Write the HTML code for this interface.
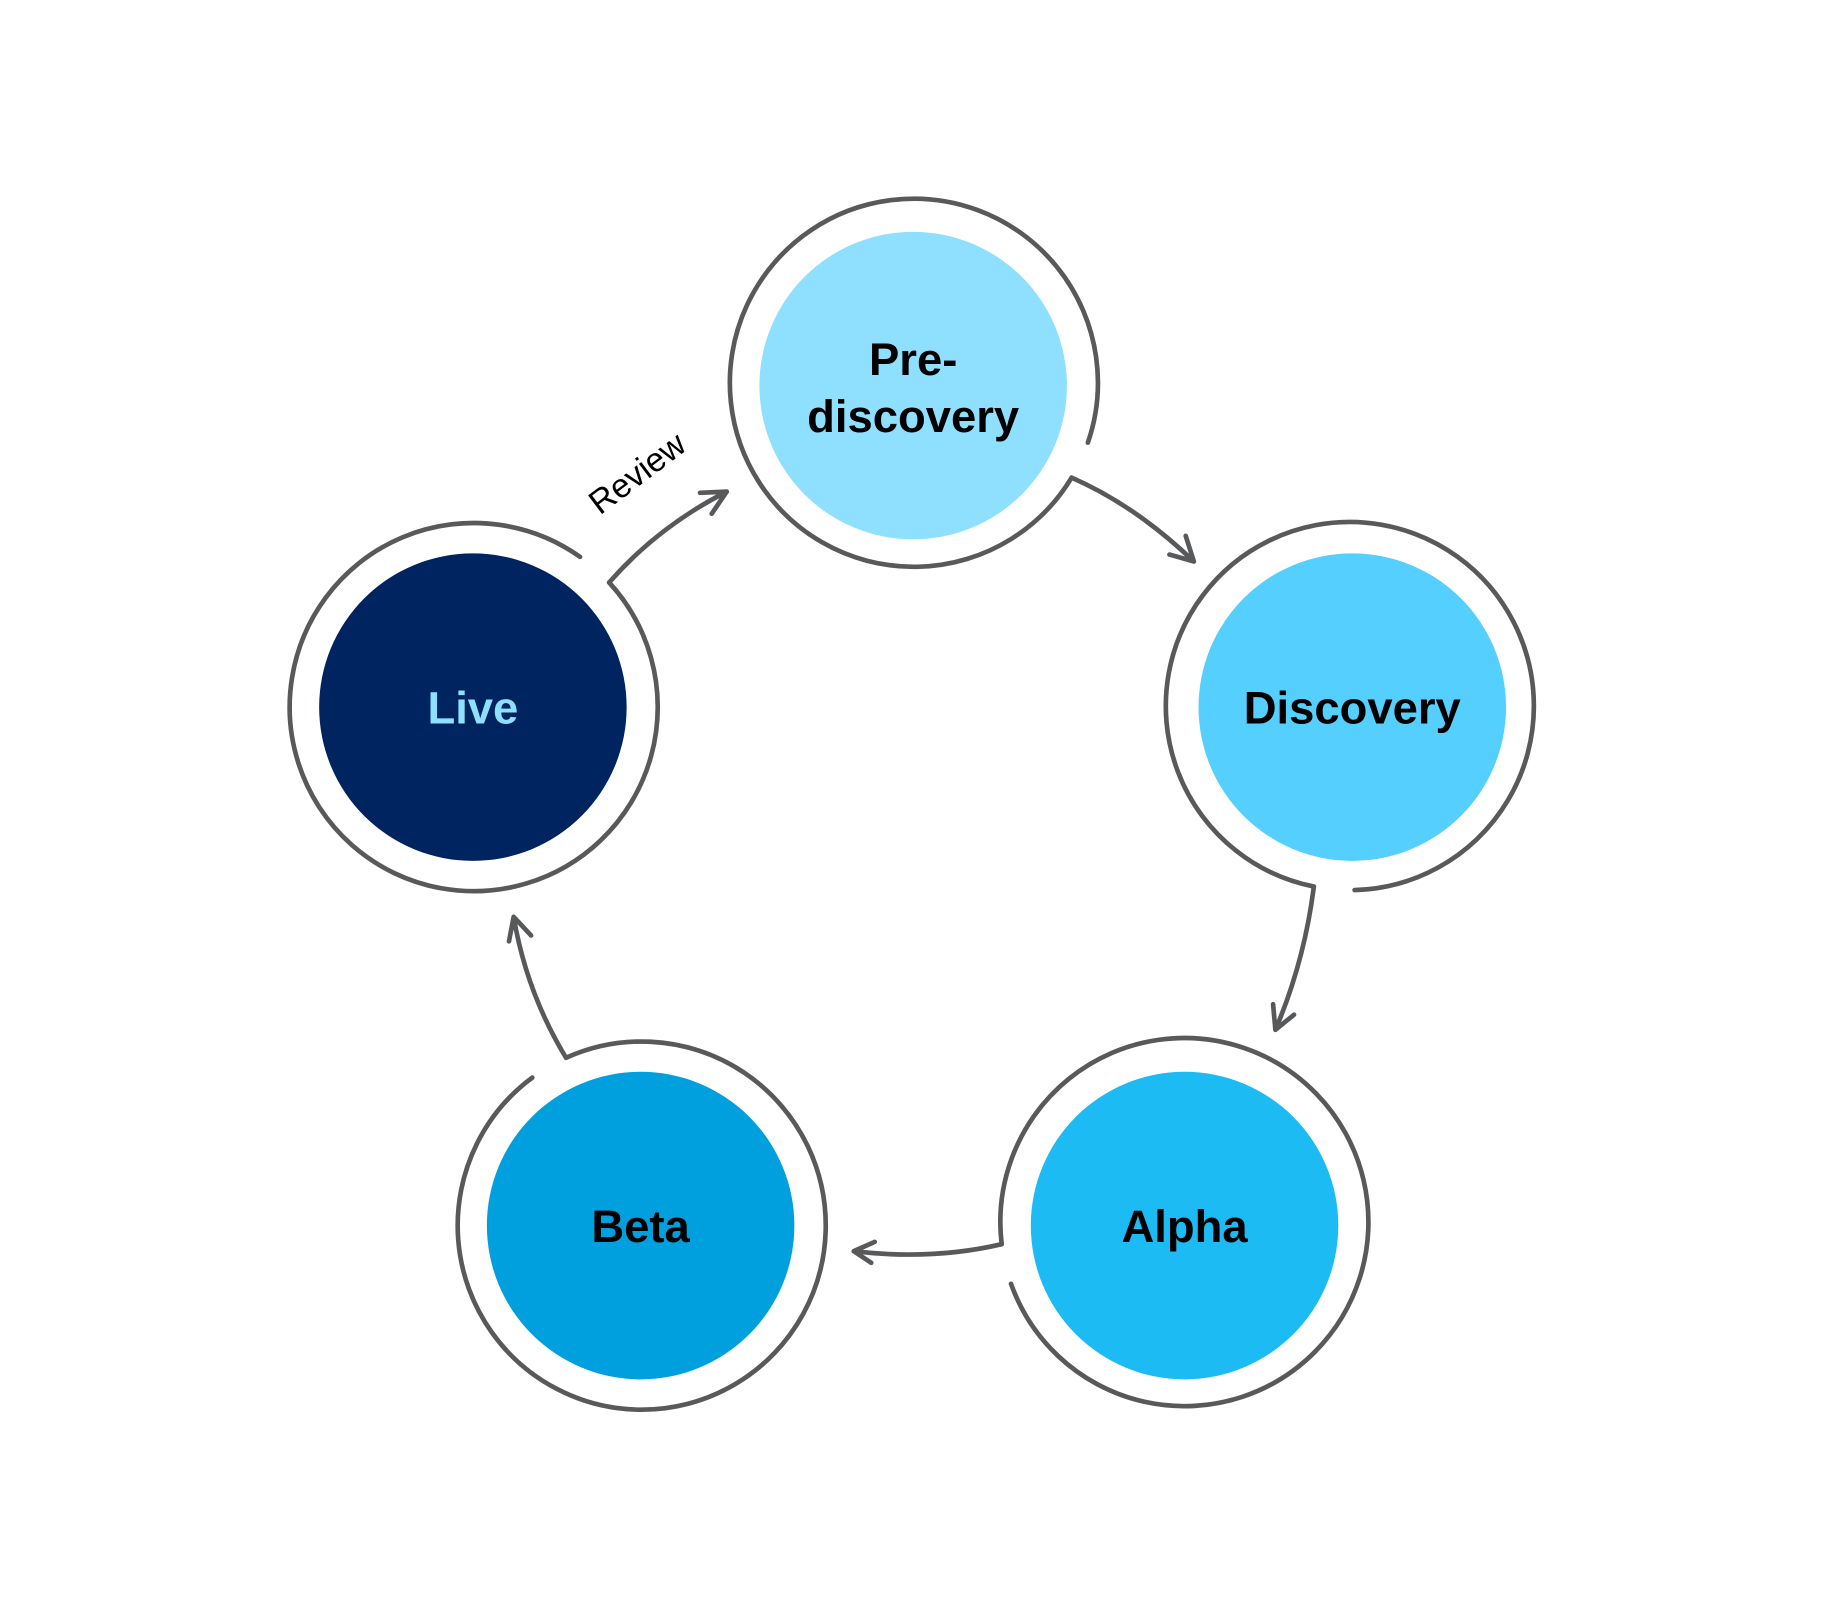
<!DOCTYPE html>
<html><head><meta charset="utf-8"><style>html,body{margin:0;padding:0;background:#fff}svg{display:block}</style></head>
<body>
<svg width="1824" height="1610" viewBox="0 0 1566 1382" preserveAspectRatio="none" xmlns="http://www.w3.org/2000/svg">
<rect width="1566" height="1382" fill="#fff"/>
<g fill="none" stroke="#58595B" stroke-width="4" stroke-linecap="round" stroke-linejoin="round">
<path d="M934,380 A158,158 0 1 0 920,410"/>
<path d="M1163,764 A158,158 0 1 0 1128,761"/>
<path d="M860,1068 A158,158 0 1 1 868,1102"/>
<path d="M486,908 A158,158 0 1 1 457,925"/>
<path d="M523,500 A158,158 0 1 1 498,478"/>
<path d="M920,410 Q975,434 1025,482 M1004,476 L1025,482 L1018,460"/>
<path d="M1128,761 Q1120,825 1095,884 M1093,862 L1095,884 L1111,871"/>
<path d="M860,1068 Q800,1082 733,1074 M751,1066 L733,1074 L748,1084"/>
<path d="M486,908 Q452,852 441,787 M437,808 L441,787 L456,803"/>
<path d="M523,500 Q565,452 624,422 M601,423 L624,422 L611,441"/>
</g>
<circle cx="784" cy="331" r="132" fill="#8EE0FE"/>
<circle cx="1161" cy="607" r="132" fill="#55D0FE"/>
<circle cx="1017" cy="1052" r="132" fill="#1CBBF3"/>
<circle cx="550" cy="1052" r="132" fill="#009FDE"/>
<circle cx="406" cy="607" r="132" fill="#00245F"/>
<g font-family="Liberation Sans, sans-serif" font-weight="bold" font-size="39" text-anchor="middle" fill="#000">
<text x="784" y="322">Pre-</text>
<text x="784" y="371">discovery</text>
<text x="1161" y="621">Discovery</text>
<text x="1017" y="1066">Alpha</text>
<text x="550" y="1066">Beta</text>
<text x="406" y="621" fill="#8EE0FE">Live</text>
</g>
<text x="0" y="0" font-family="Liberation Sans, sans-serif" font-size="29" text-anchor="middle" fill="#000" transform="translate(553,414) rotate(-37)">Review</text>
</svg>
</body></html>
